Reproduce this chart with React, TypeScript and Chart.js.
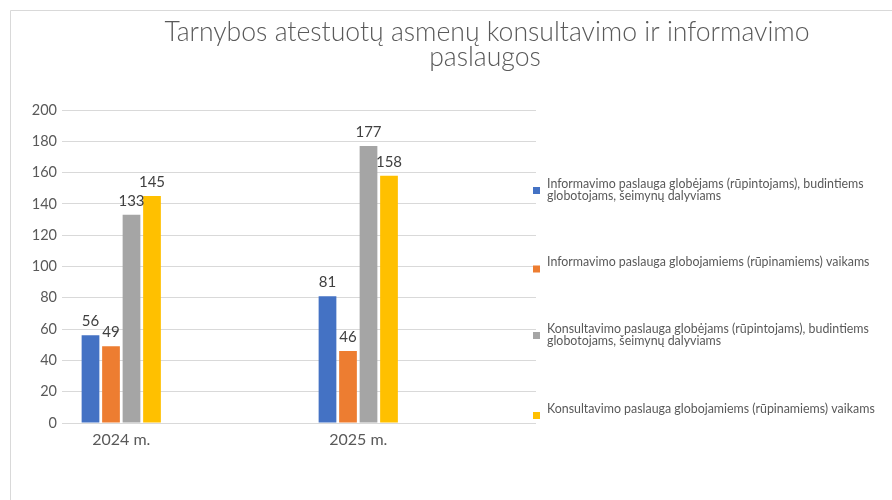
import React, { useEffect, useRef } from "react";
import { Chart, registerables } from "chart.js";

Chart.register(...registerables);

// ---------- data ----------
const categories = ["2024 m.", "2025 m."];
const seriesNames = [
  "Informavimo paslauga globėjams (rūpintojams), budintiems globotojams, šeimynų dalyviams",
  "Informavimo paslauga globojamiems (rūpinamiems) vaikams",
  "Konsultavimo paslauga globėjams (rūpintojams), budintiems globotojams, šeimynų dalyviams",
  "Konsultavimo paslauga globojamiems (rūpinamiems) vaikams",
];
const informavimasGlobejams = [56, 81];
const informavimasVaikams = [49, 46];
const konsultavimasGlobejams = [133, 177];
const konsultavimasVaikams = [145, 158];
const yTickValues = [0, 20, 40, 60, 80, 100, 120, 140, 160, 180, 200];
const titleLines = ["Tarnybos atestuotų asmenų konsultavimo ir informavimo", "paslaugos"];

// ---------- style ----------
const seriesColors = ["#4472C4", "#ED7D31", "#A5A5A5", "#FFC000"];
const FONT = "Lato, 'Open Sans', sans-serif";
const TEXT = "#595959";
const GRID = "#D9D9D9";

const allSeries = [informavimasGlobejams, informavimasVaikams, konsultavimasGlobejams, konsultavimasVaikams];

// each category occupies the left half of a double-width slot (as in the original)
const axisLabels = categories.flatMap((c) => [c, ""]);
const spread = (vals: number[]) => vals.flatMap((v) => [v, null]);

function wrap(ctx: CanvasRenderingContext2D, text: string, maxW: number): string[] {
  const words = text.split(" ");
  const lines: string[] = [];
  let cur = "";
  for (const w of words) {
    const test = cur ? cur + " " + w : w;
    if (ctx.measureText(test).width > maxW && cur) {
      lines.push(cur);
      cur = w;
    } else cur = test;
  }
  if (cur) lines.push(cur);
  return lines;
}

const decorPlugin = {
  id: "decor",
  beforeDraw(chart: any) {
    const ctx: CanvasRenderingContext2D = chart.ctx;
    ctx.save();
    ctx.fillStyle = "#ffffff";
    ctx.fillRect(0, 0, chart.width, chart.height);
    ctx.strokeStyle = GRID;
    ctx.lineWidth = 1;
    ctx.beginPath();
    ctx.moveTo(10.5, chart.height);
    ctx.lineTo(10.5, 10.5);
    ctx.lineTo(chart.width, 10.5);
    ctx.stroke();
    ctx.restore();
  },
  afterDatasetsDraw(chart: any) {
    const ctx: CanvasRenderingContext2D = chart.ctx;
    ctx.save();
    ctx.font = `15px ${FONT}`;
    ctx.fillStyle = "#404040";
    ctx.textAlign = "center";
    ctx.textBaseline = "alphabetic";
    chart.data.datasets.forEach((ds: any, i: number) => {
      const meta = chart.getDatasetMeta(i);
      meta.data.forEach((el: any, j: number) => {
        const v = ds.data[j];
        if (v === null || v === undefined) return;
        ctx.fillText(String(v), el.x, el.y - 9);
      });
    });
    ctx.restore();
  },
  afterDraw(chart: any) {
    const ctx: CanvasRenderingContext2D = chart.ctx;
    ctx.save();
    // title
    ctx.fillStyle = TEXT;
    ctx.textAlign = "center";
    ctx.textBaseline = "alphabetic";
    ctx.font = `300 26.6px ${FONT}`;
    ctx.fillText(titleLines[0], 487, 41);
    ctx.fillText(titleLines[1], 485, 66);

    // legend
    const markerY = [190.5, 269, 335.5, 415.5];
    const markerX = 536.5;
    const textX = 547;
    ctx.font = `12.4px ${FONT}`;
    ctx.textAlign = "left";
    ctx.textBaseline = "middle";
    seriesNames.forEach((name, i) => {
      ctx.fillStyle = seriesColors[i];
      ctx.fillRect(markerX - 3.5, markerY[i] - 3.5, 7, 7);
      ctx.fillStyle = TEXT;
      const lines = wrap(ctx, name, chart.width - textX - 4);
      lines.forEach((ln, k) => {
        ctx.fillText(ln, textX, markerY[i] - 7 + k * 12.5);
      });
    });
    ctx.restore();
  },
};

export default function App() {
  const ref = useRef<HTMLCanvasElement | null>(null);

  useEffect(() => {
    document.body.style.margin = "0";
    const canvas = ref.current;
    if (!canvas) return;
    const chart = new Chart(canvas, {
      type: "bar",
      data: {
        labels: axisLabels,
        datasets: allSeries.map((vals, i) => ({
          label: seriesNames[i],
          data: spread(vals),
          backgroundColor: seriesColors[i],
          borderWidth: 0,
          categoryPercentage: 0.692,
          barPercentage: 0.865,
        })),
      },
      options: {
        responsive: false,
        animation: false,
        devicePixelRatio: 1,
        layout: { padding: { left: 0, top: 110, right: 356, bottom: 47 } },
        plugins: {
          legend: { display: false },
          title: { display: false },
          tooltip: { enabled: false },
        },
        scales: {
          x: {
            grid: { display: false, drawTicks: false },
            border: { display: false },
            ticks: {
              color: TEXT,
              font: { family: FONT, size: 16 },
              padding: 7,
              autoSkip: false,
              maxRotation: 0,
            },
            afterFit: (s: any) => {
              s.height = 30;
            },
          },
          y: {
            min: yTickValues[0],
            max: yTickValues[yTickValues.length - 1],
            border: { display: false },
            grid: { color: GRID, lineWidth: 1, drawTicks: false },
            ticks: {
              stepSize: yTickValues[1] - yTickValues[0],
              color: TEXT,
              font: { family: FONT, size: 14.5 },
              padding: 5,
            },
            afterFit: (s: any) => {
              s.width = 62;
            },
          },
        },
      },
      plugins: [decorPlugin],
    });
    return () => chart.destroy();
  }, []);

  return (
    <div style={{ width: 892, height: 500 }}>
      <canvas ref={ref} width={892} height={500} style={{ display: "block", width: 892, height: 500 }} />
    </div>
  );
}
